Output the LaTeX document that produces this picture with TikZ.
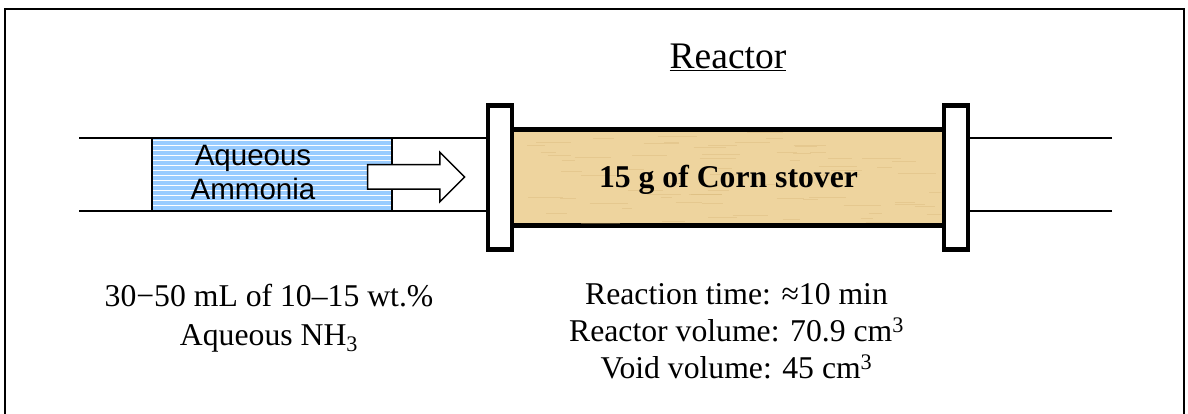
\documentclass[tikz,border=0pt]{standalone}
\usepackage{fontspec}
\setmainfont{Liberation Serif}
\newfontfamily\arialfont{Liberation Sans}
\usetikzlibrary{shapes.arrows}
\definecolor{liquidblue}{RGB}{153,204,255}
\definecolor{stovertan}{RGB}{238,212,158}
\definecolor{stoverdark}{RGB}{214,180,116}

\begin{document}
\begin{tikzpicture}[x=1pt,y=-1pt,
  pipe/.style={line width=2pt},
  flange/.style={rectangle,draw,fill=white,line width=4.6pt,inner sep=0pt,outer sep=0pt,minimum width=24pt,minimum height=144pt},
  caption/.style={align=center,inner sep=0pt,font=\fontsize{31.7}{37}\selectfont}]

\useasboundingbox (0,0) rectangle (1188,414);
\coordinate (fbl) at (4.5,414);
\coordinate (ftl) at (4.5,9);
\coordinate (ftr) at (1184,9);
\coordinate (fbr) at (1184,414);
\draw [line width=2pt] (fbl) -- (ftl) -- (ftr) -- (fbr);

\node [rectangle,draw,fill=stovertan,line width=4.6pt,inner sep=0pt,outer sep=0pt,minimum width=432pt,minimum height=96pt] (reactor) at (728,177.5) {};
\begin{scope}
\clip (515,132) rectangle (941,223.5);
\pgfmathsetseed{7}
\foreach \i in {1,...,70}
  \draw [stoverdark,opacity=.35,line width=1pt] (515+426*rnd,132+92*rnd) -- ++(10+30*rnd,0);
\end{scope}
\node [flange] (lflange) at (500,177.5) {};
\node [flange] (rflange) at (956,177.5) {};

\coordinate (lt) at (79,138.5);
\coordinate (lb) at (79,211);
\coordinate (rt) at (1112,138.5);
\coordinate (rb) at (1112,211);
\draw [pipe] (lt) -- (lt -| lflange.west);
\draw [pipe] (lb) -- (lb -| lflange.west);
\draw [pipe] (rt) -- (rt -| rflange.east);
\draw [pipe] (rb) -- (rb -| rflange.east);

\node [rectangle,fill=liquidblue,inner sep=0pt,outer sep=0pt,minimum width=240pt,minimum height=72.5pt] (liquid) at (272,174.7) {};
\foreach \y in {141,146,...,208}
  \draw [white,line width=1pt] (152,\y) -- (392,\y);
\draw [line width=2pt] (liquid.north west) rectangle (liquid.south east);

\node [single arrow,draw,fill=white,line width=1.5pt,inner xsep=0pt,inner ysep=11.5pt,minimum height=97pt,single arrow head extend=12.5pt,single arrow head indent=0pt] (feed) at (410,177) {};
\node [align=center,inner sep=0pt,font=\arialfont\fontsize{29.5}{34}\selectfont] (liquidlabel) at (253,172) {Aqueous\\Ammonia};
\node [inner sep=0pt,font=\bfseries\fontsize{31.7}{36}\selectfont] (stover) at (728.5,180) {15 g of Corn stover};
\node [caption,font=\fontsize{37.5}{42}\selectfont] (title) at (728,57) {\underline{Reactor}};
\node [caption] (feedinfo) at (269,318) {30−50 mL of 10–15 wt.\%\\[2pt]Aqueous NH\textsubscript{3}};
\node [caption] (reactorinfo) at (736.5,331) {Reaction time: ≈10 min\\Reactor volume: 70.9 cm\textsuperscript{3}\\Void volume: 45 cm\textsuperscript{3}};
\end{tikzpicture}
\end{document}
